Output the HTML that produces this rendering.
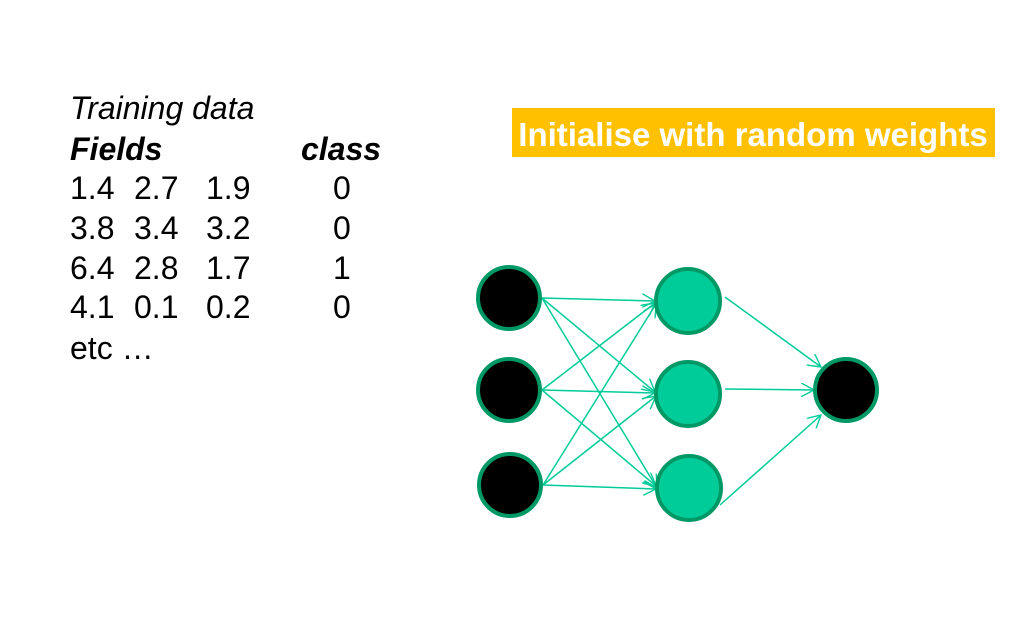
<!DOCTYPE html>
<html><head><style>body{margin:0;background:#fff;}svg{display:block}</style></head>
<body>
<svg width="1021" height="631" xmlns="http://www.w3.org/2000/svg" font-family="Liberation Sans, sans-serif">
<defs><marker id="a" viewBox="0 0 14 14" refX="13" refY="7" markerWidth="14" markerHeight="14" markerUnits="userSpaceOnUse" orient="auto"><path d="M0,0 L13,7 L0,14" fill="none" stroke="#00cc99" stroke-width="1.4"/></marker></defs>
<g font-size="32" fill="#000">
<text x="70" y="119" font-style="italic">Training data</text>
<text x="70" y="160" font-style="italic" font-weight="bold">Fields</text>
<text x="301" y="160" font-style="italic" font-weight="bold">class</text>
<text x="70" y="199">1.4</text><text x="134" y="199">2.7</text><text x="206" y="199">1.9</text><text x="333" y="199">0</text>
<text x="70" y="239">3.8</text><text x="134" y="239">3.4</text><text x="206" y="239">3.2</text><text x="333" y="239">0</text>
<text x="70" y="279">6.4</text><text x="134" y="279">2.8</text><text x="206" y="279">1.7</text><text x="333" y="279">1</text>
<text x="70" y="318">4.1</text><text x="134" y="318">0.1</text><text x="206" y="318">0.2</text><text x="333" y="318">0</text>
<text x="70" y="359">etc …</text>
</g>
<rect x="512" y="108" width="483" height="49" fill="#ffc000"/>
<text x="753" y="146" font-size="33" font-weight="bold" fill="#fff" text-anchor="middle">Initialise with random weights</text>
<g stroke="#00cc99" stroke-width="1.5" marker-end="url(#a)">
<line x1="542" y1="298" x2="655" y2="301"/><line x1="542" y1="298" x2="655" y2="392"/><line x1="542" y1="298" x2="657" y2="488"/>
<line x1="542" y1="390" x2="655" y2="303"/><line x1="542" y1="390" x2="655" y2="393"/><line x1="542" y1="390" x2="656" y2="486"/>
<line x1="543" y1="485" x2="656" y2="304"/><line x1="543" y1="485" x2="656" y2="396"/><line x1="543" y1="485" x2="656" y2="489"/>
<line x1="725" y1="297" x2="821" y2="367"/><line x1="725" y1="389" x2="814" y2="390"/><line x1="720" y1="505" x2="821" y2="415"/>
</g>
<g stroke="#009966" stroke-width="4">
<circle cx="509" cy="298" r="31" fill="#000"/><circle cx="509" cy="390" r="31" fill="#000"/><circle cx="510" cy="485" r="31" fill="#000"/>
<circle cx="688" cy="301" r="32" fill="#00cc99"/><circle cx="688" cy="394" r="32" fill="#00cc99"/><circle cx="689" cy="488" r="32" fill="#00cc99"/>
<circle cx="846" cy="390" r="31" fill="#000"/>
</g>
</svg>
</body></html>
